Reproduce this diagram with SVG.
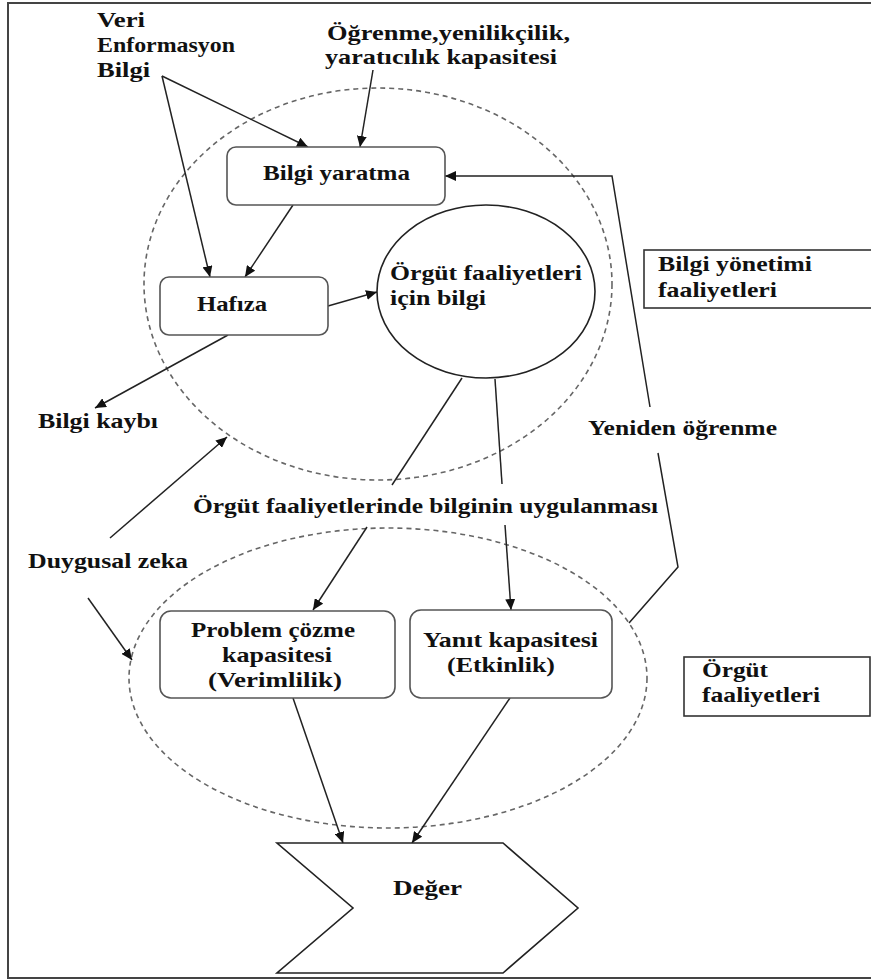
<svg xmlns="http://www.w3.org/2000/svg" width="871" height="980" viewBox="0 0 871 980">
  <style>
    text { font-family: "Liberation Serif", "Times New Roman", serif; font-weight: bold; font-size: 22px; fill: #111; }
    .box { fill: #fff; stroke: #555; stroke-width: 1.6; }
    .frame { fill: none; stroke: #333; stroke-width: 1.6; }
    .zone { fill: none; stroke: #666; stroke-width: 1.6; stroke-dasharray: 5 4; }
    .link { fill: none; stroke: #222; stroke-width: 1.5; }
    .arrow { marker-end: url(#head); }
  </style>
  <defs>
    <marker id="head" markerUnits="userSpaceOnUse" markerWidth="12" markerHeight="10" refX="11" refY="5" orient="auto">
      <path d="M0,0 L11,5 L0,10 z" fill="#111"/>
    </marker>
  </defs>

  <rect width="871" height="980" fill="#fff"/>
  <!-- outer frame -->
  <rect x="8" y="3" width="872" height="975" fill="none" stroke="#444" stroke-width="2"/>

  <!-- dashed activity zones -->
  <g id="zones">
    <ellipse class="zone" cx="378" cy="284" rx="234" ry="196"/>
    <ellipse class="zone" cx="388" cy="678" rx="259" ry="150"/>
  </g>

  <!-- connectors -->
  <g id="connectors">
    <line class="link arrow" x1="162" y1="76" x2="308" y2="147"/>
    <line class="link arrow" x1="162" y1="76" x2="210" y2="277"/>
    <line class="link arrow" x1="373" y1="70" x2="360" y2="147"/>
    <line class="link arrow" x1="293" y1="205" x2="245" y2="277"/>
    <line class="link arrow" x1="328" y1="306" x2="377" y2="292"/>
    <line class="link arrow" x1="228" y1="335" x2="95" y2="408"/>
    <!-- from knowledge circle down to the capacities -->
    <line class="link" x1="462" y1="378" x2="392" y2="485"/>
    <line class="link arrow" x1="367" y1="527" x2="313" y2="610"/>
    <line class="link" x1="495" y1="379" x2="502" y2="484"/>
    <line class="link arrow" x1="505" y1="525" x2="511" y2="610"/>
    <!-- re-learning loop -->
    <polyline class="link" points="629,623 678,567 658,453"/>
    <polyline class="link arrow" points="650,407 612,176 445,176"/>
    <!-- emotional intelligence -->
    <line class="link arrow" x1="110" y1="538" x2="227" y2="437"/>
    <line class="link arrow" x1="88" y1="598" x2="132" y2="660"/>
    <!-- into value -->
    <line class="link arrow" x1="293" y1="698" x2="343" y2="843"/>
    <line class="link arrow" x1="510" y1="698" x2="412" y2="843"/>
  </g>

  <g id="inputs">
    <text x="97" y="27" textLength="48" lengthAdjust="spacingAndGlyphs">Veri</text>
    <text x="97" y="52" textLength="138" lengthAdjust="spacingAndGlyphs">Enformasyon</text>
    <text x="97" y="77" textLength="53" lengthAdjust="spacingAndGlyphs">Bilgi</text>
  </g>

  <g id="capacity">
    <text x="327" y="40" textLength="243" lengthAdjust="spacingAndGlyphs">Öğrenme,yenilikçilik,</text>
    <text x="325" y="64" textLength="232" lengthAdjust="spacingAndGlyphs">yaratıcılık kapasitesi</text>
  </g>

  <g id="bilgi-yaratma">
    <rect class="box" x="227" y="147" width="218" height="58" rx="9"/>
    <text x="263" y="180" textLength="147" lengthAdjust="spacingAndGlyphs">Bilgi yaratma</text>
  </g>

  <g id="hafiza">
    <rect class="box" x="160" y="277" width="168" height="58" rx="9"/>
    <text x="197" y="311" textLength="70" lengthAdjust="spacingAndGlyphs">Hafıza</text>
  </g>

  <g id="orgut-bilgi">
    <ellipse cx="486" cy="291.5" rx="109" ry="86.5" fill="#fff" stroke="#222" stroke-width="1.6"/>
    <text x="390" y="280" textLength="192" lengthAdjust="spacingAndGlyphs">Örgüt faaliyetleri</text>
    <text x="390" y="305" textLength="96" lengthAdjust="spacingAndGlyphs">için bilgi</text>
  </g>

  <g id="bilgi-kaybi">
    <text x="38" y="428" textLength="120" lengthAdjust="spacingAndGlyphs">Bilgi kaybı</text>
  </g>

  <g id="bilgi-yonetimi">
    <rect class="frame" x="644" y="250" width="235" height="58"/>
    <text x="658" y="271" textLength="154" lengthAdjust="spacingAndGlyphs">Bilgi yönetimi</text>
    <text x="658" y="297" textLength="119" lengthAdjust="spacingAndGlyphs">faaliyetleri</text>
  </g>

  <g id="yeniden-ogrenme">
    <text x="588" y="435" textLength="189" lengthAdjust="spacingAndGlyphs">Yeniden öğrenme</text>
  </g>

  <g id="uygulama">
    <text x="193" y="513" textLength="465" lengthAdjust="spacingAndGlyphs">Örgüt faaliyetlerinde bilginin uygulanması</text>
  </g>

  <g id="duygusal-zeka">
    <text x="28" y="568" textLength="160" lengthAdjust="spacingAndGlyphs">Duygusal zeka</text>
  </g>

  <g id="problem-cozme">
    <rect class="box" x="160" y="611" width="235" height="87" rx="11"/>
    <text x="191" y="637" textLength="164" lengthAdjust="spacingAndGlyphs">Problem çözme</text>
    <text x="222" y="662" textLength="110" lengthAdjust="spacingAndGlyphs">kapasitesi</text>
    <text x="208" y="687" textLength="134" lengthAdjust="spacingAndGlyphs">(Verimlilik)</text>
  </g>

  <g id="yanit-kapasitesi">
    <rect class="box" x="410" y="610" width="202" height="88" rx="11"/>
    <text x="423" y="647" textLength="175" lengthAdjust="spacingAndGlyphs">Yanıt kapasitesi</text>
    <text x="447" y="672" textLength="108" lengthAdjust="spacingAndGlyphs">(Etkinlik)</text>
  </g>

  <g id="orgut-faaliyetleri">
    <rect class="frame" x="684" y="657" width="186" height="59"/>
    <text x="702" y="677" textLength="66" lengthAdjust="spacingAndGlyphs">Örgüt</text>
    <text x="702" y="702" textLength="118" lengthAdjust="spacingAndGlyphs">faaliyetleri</text>
  </g>

  <g id="deger">
    <polygon points="277,843 503,843 578,908 503,973 277,973 353,908" fill="#fff" stroke="#222" stroke-width="1.6"/>
    <text x="393" y="895" textLength="69" lengthAdjust="spacingAndGlyphs">Değer</text>
  </g>
</svg>
